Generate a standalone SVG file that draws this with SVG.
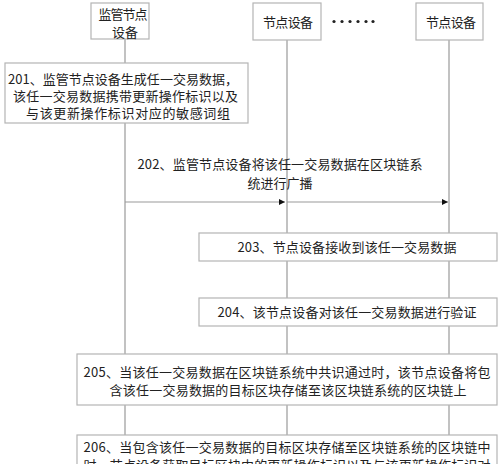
<svg xmlns="http://www.w3.org/2000/svg" width="500" height="464" viewBox="0 0 500 464">
<style>
.box{fill:#fff;stroke:#b4b4b4;stroke-width:1.2}
.life{stroke:#a8a8a8;stroke-width:1.4}
.t{font-family:"Noto Sans CJK SC","Noto Sans",sans-serif;font-size:13px;fill:#222;text-anchor:middle}
.msg{stroke:#999;stroke-width:1.2;fill:none}
.dot{fill:#222}
</style>
<defs>
<marker id="arr" viewBox="0 0 10 10" refX="10" refY="5" markerWidth="6" markerHeight="6" markerUnits="userSpaceOnUse" orient="auto">
<path d="M0,0 L10,5 L0,10 Z" fill="#111"/>
</marker>
</defs>
<g id="lifelines">
<line class="life" x1="125" y1="39" x2="125" y2="464"/>
<line class="life" x1="287" y1="40" x2="287" y2="464"/>
<line class="life" x1="449" y1="40" x2="449" y2="464"/>
</g>
<g id="connectors">
<line class="msg" x1="125" y1="202" x2="285" y2="202" marker-end="url(#arr)"/>
<line class="msg" x1="287" y1="202" x2="448" y2="202" marker-end="url(#arr)"/>
<text class="t" x="280" y="169" textLength="285" lengthAdjust="spacing">202、监管节点设备将该任一交易数据在区块链系</text>
<text class="t" x="280" y="188">统进行广播</text>
</g>
<g id="supervisor">
<rect class="box" x="91" y="3" width="58" height="36"/>
<text class="t" x="123" y="18.5" textLength="49" lengthAdjust="spacing">监管节点</text>
<text class="t" x="125" y="36.5">设备</text>
</g>
<g id="node1">
<rect class="box" x="253" y="3" width="68" height="37"/>
<text class="t" x="288" y="27" textLength="50" lengthAdjust="spacing">节点设备</text>
</g>
<g id="dots">
<circle class="dot" cx="334" cy="21.5" r="1.6"/>
<circle class="dot" cx="342" cy="21.5" r="1.6"/>
<circle class="dot" cx="350" cy="21.5" r="1.6"/>
<circle class="dot" cx="358" cy="21.5" r="1.6"/>
<circle class="dot" cx="366" cy="21.5" r="1.6"/>
<circle class="dot" cx="373" cy="21.5" r="1.6"/>
</g>
<g id="node2">
<rect class="box" x="416" y="3" width="67" height="37"/>
<text class="t" x="451" y="27" textLength="50" lengthAdjust="spacing">节点设备</text>
</g>
<g id="step201">
<rect class="box" x="5" y="63" width="243" height="60"/>
<text class="t" x="123" y="84" textLength="230" lengthAdjust="spacing">201、监管节点设备生成任一交易数据，</text>
<text class="t" x="125.5" y="101" textLength="225" lengthAdjust="spacing">该任一交易数据携带更新操作标识以及</text>
<text class="t" x="128" y="118" textLength="204" lengthAdjust="spacing">与该更新操作标识对应的敏感词组</text>
</g>
<g id="step203">
<rect class="box" x="199" y="233" width="298" height="28"/>
<text class="t" x="347" y="252" textLength="219" lengthAdjust="spacing">203、节点设备接收到该任一交易数据</text>
</g>
<g id="step204">
<rect class="box" x="199" y="298" width="298" height="28"/>
<text class="t" x="347" y="317" textLength="259" lengthAdjust="spacing">204、该节点设备对该任一交易数据进行验证</text>
</g>
<g id="step205">
<rect class="box" x="77" y="354" width="420" height="51"/>
<text class="t" x="287" y="377" textLength="407" lengthAdjust="spacing">205、当该任一交易数据在区块链系统中共识通过时，该节点设备将包</text>
<text class="t" x="288" y="395" textLength="357" lengthAdjust="spacing">含该任一交易数据的目标区块存储至该区块链系统的区块链上</text>
</g>
<g id="step206">
<rect class="box" x="77" y="435" width="420" height="40"/>
<text class="t" x="287" y="452" textLength="407" lengthAdjust="spacing">206、当包含该任一交易数据的目标区块存储至区块链系统的区块链中</text>
<text class="t" x="287" y="470" textLength="407" lengthAdjust="spacing">时，节点设备获取目标区块中的更新操作标识以及与该更新操作标识对</text>
</g>
</svg>
